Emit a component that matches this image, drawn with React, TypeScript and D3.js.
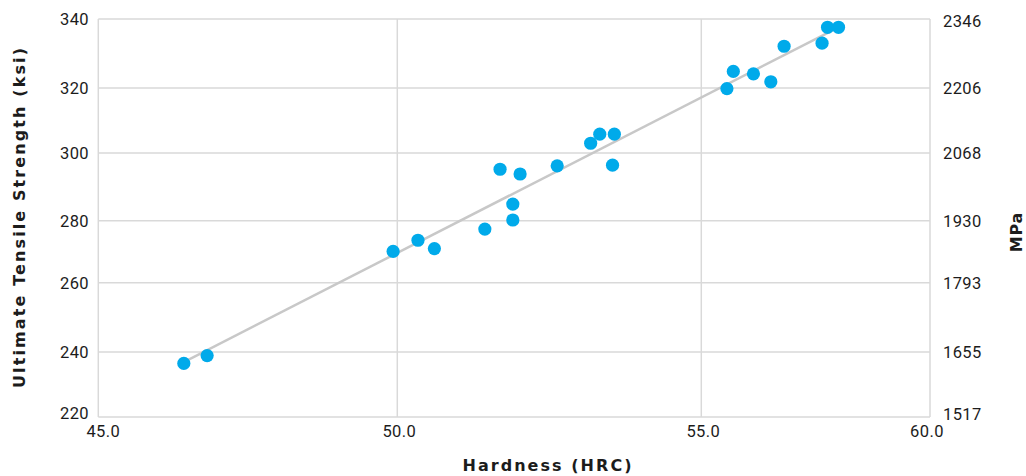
import React from "react";
import * as d3 from "d3";

// ---- data ----
const hardness = [
  46.43, 46.82, 49.93, 50.34, 50.61, 51.44, 51.69, 51.9, 51.9, 52.02, 52.63, 53.18,
  53.33, 53.57, 53.54, 55.56, 55.7, 56.14, 56.52, 56.81, 57.64, 57.76, 58.0,
];
const strengthKsi = [
  236.5, 238.9, 270.1, 273.7, 271.0, 277.3, 295.2, 284.9, 280.2, 293.8, 296.2, 303.0,
  305.8, 305.8, 296.4, 319.8, 324.8, 324.1, 321.8, 332.1, 333.0, 337.6, 337.6,
];
const trendX = [46.43, 58.0];
const trendY = [236.9, 337.6];

const xTicks = [45, 50, 55, 60];
const yTicks = [220, 240, 260, 280, 300, 320, 340];
const mpaLabels = ["1517", "1655", "1793", "1930", "2068", "2206", "2346"];

const xTitle = "Hardness (HRC)";
const yTitle = "Ultimate Tensile Strength (ksi)";
const y2Title = "MPa";

// ---- layout ----
const W = 1026;
const H = 476;
const xScale = d3.scaleLinear().domain(xTicks).range([98.3, 397.3, 701.3, 930]);
const yScale = d3
  .scaleLinear()
  .domain(yTicks)
  .range([417, 352, 282.7, 220.7, 153, 88, 19]);

const FONT = "Roboto, 'DejaVu Sans', sans-serif";
const TITLE_FONT = "'DejaVu Sans', Roboto, sans-serif";
const TEXT = "#1c1c1c";
const GRID = "#d9d9d9";
const DOT = "#00aaea";

export default function App() {
  const trendLine = d3
    .line<number>()
    .x((_, i) => xScale(trendX[i]))
    .y((d) => yScale(d))(trendY) as string;

  const x0 = xScale(xTicks[0]);
  const x1 = xScale(xTicks[xTicks.length - 1]);
  const y0 = yScale(yTicks[0]);
  const y1 = yScale(yTicks[yTicks.length - 1]);

  return (
    <svg
      width={W}
      height={H}
      style={{ position: "absolute", left: 0, top: 0, background: "#fff" }}
      fontFamily={FONT}
    >
      {yTicks.map((t) => (
        <line key={"h" + t} x1={x0} x2={x1} y1={yScale(t)} y2={yScale(t)} stroke={GRID} strokeWidth={1.5} />
      ))}
      {xTicks.map((t) => (
        <line key={"v" + t} x1={xScale(t)} x2={xScale(t)} y1={y1} y2={y0} stroke={GRID} strokeWidth={1.5} />
      ))}

      <path d={trendLine} fill="none" stroke="#c8c8c8" strokeWidth={2.5} />

      {hardness.map((h, i) => (
        <circle key={i} cx={xScale(h)} cy={yScale(strengthKsi[i])} r={6.6} fill={DOT} />
      ))}

      {yTicks.map((t, i) => (
        <text
          key={"yl" + t}
          x={89}
          y={yScale(t) - (i === 0 ? 4 : 0)}
          dy="0.36em"
          textAnchor="end"
          fontSize={16.5}
          fill={TEXT}
          letterSpacing={0.4}
        >
          {t}
        </text>
      ))}
      {yTicks.map((t, i) => (
        <text
          key={"yr" + t}
          x={943}
          y={yScale(t) + (i === 0 ? -3 : i === yTicks.length - 1 ? 2 : 0)}
          dy="0.36em"
          textAnchor="start"
          fontSize={16.5}
          fill={TEXT}
          letterSpacing={0.4}
        >
          {mpaLabels[i]}
        </text>
      ))}
      {xTicks.map((t, i) => (
        <text
          key={"xl" + t}
          x={xScale(t) + (i === 0 ? 5 : i === xTicks.length - 1 ? -3 : 2)}
          y={437}
          textAnchor="middle"
          fontSize={16.5}
          fill={TEXT}
          letterSpacing={0.4}
        >
          {t.toFixed(1)}
        </text>
      ))}

      <text
        x={547}
        y={471}
        textAnchor="middle"
        fontSize={16}
        fontWeight={700}
        fill={TEXT}
        fontFamily={TITLE_FONT}
        textLength={169}
        lengthAdjust="spacing"
      >
        {xTitle}
      </text>
      <text
        transform={`translate(25, ${(y0 + y1) / 2}) rotate(-90)`}
        textAnchor="middle"
        fontSize={16}
        fontWeight={700}
        fill={TEXT}
        fontFamily={TITLE_FONT}
        textLength={340}
        lengthAdjust="spacing"
      >
        {yTitle}
      </text>
      <text
        transform={`translate(1022, ${(y0 + y1) / 2 + 14}) rotate(-90)`}
        textAnchor="middle"
        fontSize={16}
        fontWeight={700}
        fill={TEXT}
        fontFamily={TITLE_FONT}
        letterSpacing={0.8}
      >
        {y2Title}
      </text>
    </svg>
  );
}
